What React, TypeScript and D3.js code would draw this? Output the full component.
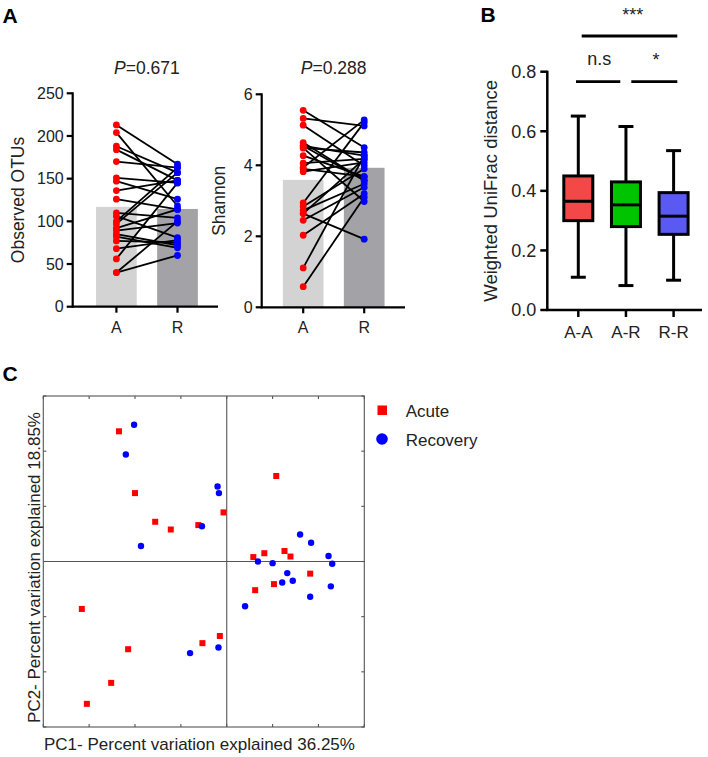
import React from "react";
import * as d3 from "d3";

// ---------- Panel A data ----------
const groups = ["A", "R"];
const otuA = [213, 204, 188, 184, 170, 151, 147, 136, 126, 110, 106, 100, 97, 89, 85, 77, 68, 56, 40, 40, 82, 92];
const otuR = [167, 118, 157, 148, 163, 145, 126, 148, 114, 104, 81, 163, 157, 98, 72, 75, 78, 145, 100, 60, 69, 114];
const otuBars = [117, 114.5];
const otuTicks = [0, 50, 100, 150, 200, 250];

const shanA = [5.55, 5.32, 5.13, 4.64, 4.55, 4.49, 4.27, 4.06, 3.94, 3.82, 2.94, 2.84, 2.73, 2.64, 2.45, 2.03, 1.11, 0.58, 4.55, 4.49, 2.64, 3.9];
const shanR = [4.5, 5.11, 3.99, 3.57, 4.27, 4.36, 3.68, 4.18, 5.28, 4.08, 5.21, 3.9, 3.48, 1.92, 3.38, 3.2, 4.27, 3.1, 3.57, 2.98, 4.18, 3.68];
const shanBars = [3.59, 3.93];
const shanTicks = [0, 2, 4, 6];

// ---------- Panel B data ----------
const boxGroups = ["A-A", "A-R", "R-R"];
const boxMin = [0.11, 0.082, 0.1];
const boxQ1 = [0.3, 0.28, 0.254];
const boxMed = [0.365, 0.353, 0.315];
const boxQ3 = [0.45, 0.43, 0.394];
const boxMax = [0.651, 0.616, 0.535];
const boxColors = ["#F24848", "#00C400", "#5A5AF2"];
const boxTicks = [0, 0.2, 0.4, 0.6, 0.8];

// ---------- Panel C data ----------
const acuteX = [-0.235, -0.2, -0.156, -0.122, -0.062, -0.007, 0.108, 0.058, 0.082, 0.126, 0.139, 0.182, 0.103, 0.062, -0.015, -0.053, -0.316, -0.215, -0.252, -0.305];
const acuteY = [0.236, 0.124, 0.072, 0.058, 0.066, 0.089, 0.155, 0.008, 0.015, 0.019, 0.009, -0.022, -0.041, -0.052, -0.135, -0.148, -0.086, -0.159, -0.22, -0.258];
const recX = [-0.202, -0.22, -0.02, -0.017, -0.054, -0.187, 0.16, 0.184, 0.222, 0.23, 0.068, 0.1, 0.132, 0.121, 0.144, 0.227, 0.182, 0.04, -0.018, -0.08];
const recY = [0.248, 0.194, 0.136, 0.124, 0.064, 0.028, 0.049, 0.034, 0.01, -0.004, 0.0, -0.003, -0.021, -0.038, -0.035, -0.045, -0.064, -0.081, -0.156, -0.166];
const pcXTicks = [-0.4, -0.3, -0.2, -0.1, 0, 0.1, 0.2, 0.3];
const pcYTicks = [-0.3, -0.2, -0.1, 0, 0.1, 0.2, 0.3];

const FONT = "'Liberation Sans', Arial, sans-serif";

function PairedPanel(props: {
  xRange: [number, number];
  axisX: number;
  axisEnd: number;
  yRange: [number, number];
  domainMax: number;
  ticks: number[];
  a: number[];
  r: number[];
  bars: number[];
  pText: string;
  label: string;
  labelX: number;
}) {
  const { xRange, axisX, axisEnd, yRange, domainMax, ticks, a, r, bars, pText, label, labelX } = props;
  const x = d3.scalePoint<string>().domain(groups).range(xRange);
  const y = d3.scaleLinear().domain([0, domainMax]).range(yRange);
  const barW = 40.7;
  const y0 = y(0);
  const pX = ((x("A") as number) + (x("R") as number)) / 2;
  return (
    <g>
      {bars.map((b, i) => (
        <rect key={"b" + i} x={(x(groups[i]) as number) - barW / 2} y={y(b)} width={barW} height={y0 - y(b)}
          fill={i === 0 ? "#D3D3D3" : "#A2A2A7"} />
      ))}
      {a.map((v, i) => (
        <line key={"l" + i} x1={x("A")} y1={y(v)} x2={x("R")} y2={y(r[i])} stroke="#000" strokeWidth={1.8} />
      ))}
      {a.map((v, i) => (
        <circle key={"a" + i} cx={x("A")} cy={y(v)} r={3.4} fill="#FF0000" />
      ))}
      {r.map((v, i) => (
        <circle key={"r" + i} cx={x("R")} cy={y(v)} r={3.4} fill="#0000FF" />
      ))}
      <line x1={axisX} y1={y0 + 1} x2={axisX} y2={y(domainMax) - 1} stroke="#000" strokeWidth={2.2} />
      <line x1={axisX - 1} y1={y0} x2={axisEnd} y2={y0} stroke="#000" strokeWidth={2.2} />
      {ticks.map((t) => (
        <g key={"t" + t}>
          <line x1={axisX - 6} x2={axisX} y1={y(t)} y2={y(t)} stroke="#000" strokeWidth={2.2} />
          <text x={axisX - 9} y={y(t)} dy="0.35em" textAnchor="end" fontSize={16} fontFamily={FONT} fill="#222">{t}</text>
        </g>
      ))}
      {groups.map((g) => (
        <g key={"g" + g}>
          <line x1={x(g)} x2={x(g)} y1={y0} y2={y0 + 6} stroke="#000" strokeWidth={2.2} />
          <text x={x(g)} y={333} textAnchor="middle" fontSize={16} fontFamily={FONT} fill="#222">{g}</text>
        </g>
      ))}
      <text x={pX} y={73.5} textAnchor="middle" fontSize={17.5} fontFamily={FONT} fill="#222">
        <tspan fontStyle="italic">P</tspan>{pText}
      </text>
      <text transform={`translate(${labelX},${(y0 + y(domainMax)) / 2}) rotate(-90)`} textAnchor="middle"
        fontSize={17.5} fontFamily={FONT} fill="#222">{label}</text>
    </g>
  );
}

function BoxPanel() {
  const x = d3.scalePoint<string>().domain(boxGroups).range([578.3, 673.6]);
  const y = d3.scaleLinear().domain([0, 0.8]).range([310, 71.7]);
  const axisX = 547.3;
  const bw = 29;
  const cw = 15;
  const fmt = d3.format(".1f");
  return (
    <g>
      {boxGroups.map((g, i) => {
        const cx = x(g) as number;
        return (
          <g key={g}>
            <line x1={cx} x2={cx} y1={y(boxMax[i])} y2={y(boxQ3[i])} stroke="#000" strokeWidth={3} />
            <line x1={cx} x2={cx} y1={y(boxQ1[i])} y2={y(boxMin[i])} stroke="#000" strokeWidth={3} />
            <line x1={cx - cw / 2} x2={cx + cw / 2} y1={y(boxMax[i])} y2={y(boxMax[i])} stroke="#000" strokeWidth={3} />
            <line x1={cx - cw / 2} x2={cx + cw / 2} y1={y(boxMin[i])} y2={y(boxMin[i])} stroke="#000" strokeWidth={3} />
            <rect x={cx - bw / 2} y={y(boxQ3[i])} width={bw} height={y(boxQ1[i]) - y(boxQ3[i])} fill={boxColors[i]} stroke="#000" strokeWidth={3} />
            <line x1={cx - bw / 2} x2={cx + bw / 2} y1={y(boxMed[i])} y2={y(boxMed[i])} stroke="#000" strokeWidth={3} />
            <line x1={cx} x2={cx} y1={y(0)} y2={y(0) + 7} stroke="#000" strokeWidth={2.5} />
            <text x={cx} y={338} textAnchor="middle" fontSize={17} fontFamily={FONT} fill="#222">{g}</text>
          </g>
        );
      })}
      <line x1={axisX} x2={axisX} y1={y(0) + 1} y2={y(0.8) - 1} stroke="#000" strokeWidth={2.5} />
      <line x1={axisX - 1} x2={702} y1={y(0)} y2={y(0)} stroke="#000" strokeWidth={2.5} />
      {boxTicks.map((t) => (
        <g key={t}>
          <line x1={axisX - 7} x2={axisX} y1={y(t)} y2={y(t)} stroke="#000" strokeWidth={2.5} />
          <text x={axisX - 11} y={y(t)} dy="0.35em" textAnchor="end" fontSize={18} fontFamily={FONT} fill="#222">{fmt(t)}</text>
        </g>
      ))}
      <text transform={`translate(497,${(y(0) + y(0.8)) / 2}) rotate(-90)`} textAnchor="middle" fontSize={18.5}
        fontFamily={FONT} fill="#222">Weighted UniFrac distance</text>
      {/* significance */}
      <line x1={581.7} x2={677.3} y1={36} y2={36} stroke="#000" strokeWidth={2.8} />
      <text x={632.7} y={21} textAnchor="middle" fontSize={18} fontFamily={FONT} fill="#222">***</text>
      <line x1={576} x2={620.3} y1={81.7} y2={81.7} stroke="#000" strokeWidth={2.8} />
      <text x={599.3} y={65} textAnchor="middle" fontSize={18} fontFamily={FONT} fill="#222">n.s</text>
      <line x1={631.3} x2={677.3} y1={81.7} y2={81.7} stroke="#000" strokeWidth={2.8} />
      <text x={656} y={66} textAnchor="middle" fontSize={18} fontFamily={FONT} fill="#222">*</text>
    </g>
  );
}

function PcoaPanel() {
  const x = d3.scaleLinear().domain([-0.4, 0.3]).range([43.3, 364.3]);
  const y = d3.scaleLinear().domain([-0.3, 0.3]).range([727, 396]);
  const frame = "#555";
  const sq = 6;
  return (
    <g>
      <rect x={x(-0.4)} y={y(0.3)} width={x(0.3) - x(-0.4)} height={y(-0.3) - y(0.3)} fill="none" stroke={frame} strokeWidth={1.1} />
      <line x1={x(0)} x2={x(0)} y1={y(0.3)} y2={y(-0.3)} stroke={frame} strokeWidth={1.1} />
      <line x1={x(-0.4)} x2={x(0.3)} y1={y(0)} y2={y(0)} stroke={frame} strokeWidth={1.1} />
      {pcXTicks.map((t) => (
        <g key={"x" + t}>
          <line x1={x(t)} x2={x(t)} y1={y(0.3)} y2={y(0.3) + 3} stroke={frame} strokeWidth={1.1} />
          <line x1={x(t)} x2={x(t)} y1={y(-0.3)} y2={y(-0.3) - 3} stroke={frame} strokeWidth={1.1} />
        </g>
      ))}
      {pcYTicks.map((t) => (
        <g key={"y" + t}>
          <line x1={x(-0.4)} x2={x(-0.4) + 3} y1={y(t)} y2={y(t)} stroke={frame} strokeWidth={1.1} />
          <line x1={x(0.3)} x2={x(0.3) - 3} y1={y(t)} y2={y(t)} stroke={frame} strokeWidth={1.1} />
        </g>
      ))}
      {acuteX.map((v, i) => (
        <rect key={"a" + i} x={x(v) - sq / 2} y={y(acuteY[i]) - sq / 2} width={sq} height={sq} fill="#FF0000" />
      ))}
      {recX.map((v, i) => (
        <circle key={"r" + i} cx={x(v)} cy={y(recY[i])} r={3.2} fill="#0000FF" />
      ))}
      <text x={44} y={750} fontSize={17} fontFamily={FONT} fill="#222">PC1- Percent variation explained 36.25%</text>
      <text transform={`translate(40,${(y(0.3) + y(-0.3)) / 2 + 6}) rotate(-90)`} textAnchor="middle" fontSize={17}
        fontFamily={FONT} fill="#222">PC2- Percent variation explained 18.85%</text>
      {/* legend */}
      <rect x={377.5} y={405.5} width={9.5} height={9.5} fill="#FF0000" />
      <text x={405.7} y={416.7} fontSize={17} fontFamily={FONT} fill="#222">Acute</text>
      <circle cx={382} cy={439} r={5.8} fill="#0000FF" />
      <text x={405.7} y={445.5} fontSize={17} fontFamily={FONT} fill="#222">Recovery</text>
    </g>
  );
}

export default function App() {
  return (
    <svg width={708} height={757} style={{ position: "absolute", left: 0, top: 0, background: "#fff" }}>
      <rect width={708} height={757} fill="#fff" />
      <text x={2.5} y={23} fontSize={21} fontWeight="bold" fontFamily={FONT}>A</text>
      <text x={480.5} y={22} fontSize={21} fontWeight="bold" fontFamily={FONT}>B</text>
      <text x={2.5} y={381} fontSize={21} fontWeight="bold" fontFamily={FONT}>C</text>
      <PairedPanel xRange={[116.4, 177.5]} axisX={72.7} axisEnd={218} yRange={[306.7, 93.3]} domainMax={250}
        ticks={otuTicks} a={otuA} r={otuR} bars={otuBars} pText="=0.671" label="Observed OTUs" labelX={24} />
      <PairedPanel xRange={[303.2, 364.2]} axisX={261.7} axisEnd={405} yRange={[307.3, 94.3]} domainMax={6}
        ticks={shanTicks} a={shanA} r={shanR} bars={shanBars} pText="=0.288" label="Shannon" labelX={225} />
      <BoxPanel />
      <PcoaPanel />
    </svg>
  );
}
